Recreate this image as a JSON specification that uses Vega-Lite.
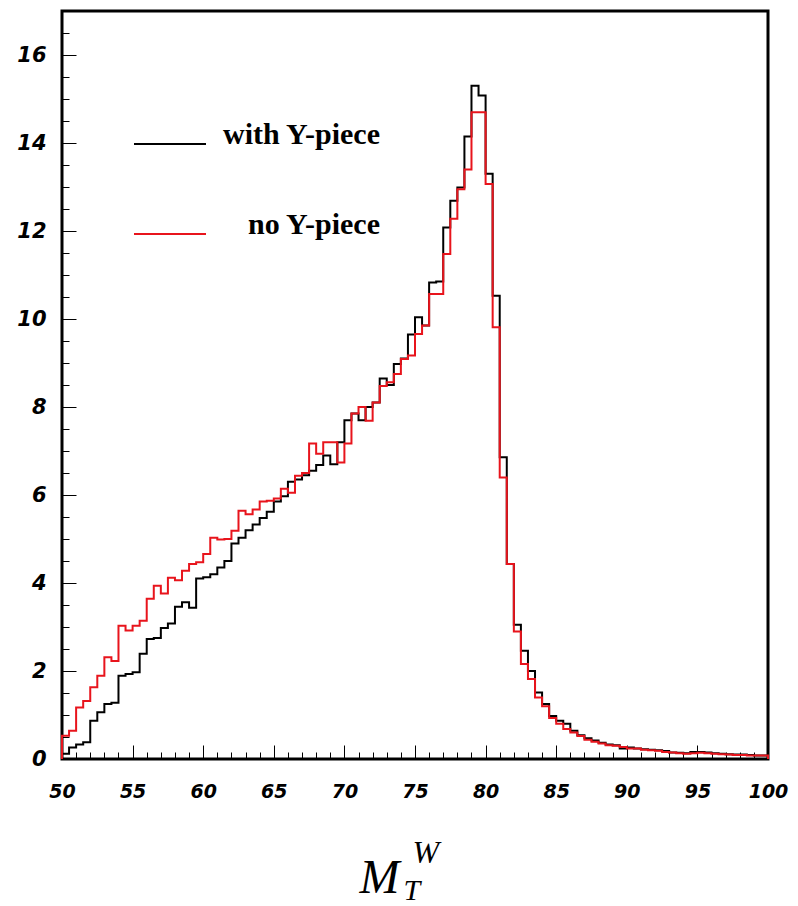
{
  "$schema": "https://vega.github.io/schema/vega-lite/v6.json",
  "width": 706,
  "height": 748,
  "autosize": "none",
  "padding": {"left": 62, "top": 11, "right": 30, "bottom": 147},
  "background": "white",
  "config": {"view": {"stroke": "black", "strokeWidth": 3}},
  "data": {"values": [
    {"i":0,"x":50,"with Y-piece":0,"no Y-piece":0},
    {"i":1,"x":50.0,"with Y-piece":0.12,"no Y-piece":0.53},
    {"i":2,"x":50.5,"with Y-piece":0.26,"no Y-piece":0.64},
    {"i":3,"x":51.0,"with Y-piece":0.33,"no Y-piece":1.17},
    {"i":4,"x":51.5,"with Y-piece":0.38,"no Y-piece":1.32},
    {"i":5,"x":52.0,"with Y-piece":0.87,"no Y-piece":1.63},
    {"i":6,"x":52.5,"with Y-piece":1.06,"no Y-piece":1.89},
    {"i":7,"x":53.0,"with Y-piece":1.25,"no Y-piece":2.31},
    {"i":8,"x":53.5,"with Y-piece":1.28,"no Y-piece":2.23},
    {"i":9,"x":54.0,"with Y-piece":1.89,"no Y-piece":3.03},
    {"i":10,"x":54.5,"with Y-piece":1.93,"no Y-piece":2.92},
    {"i":11,"x":55.0,"with Y-piece":1.97,"no Y-piece":3.03},
    {"i":12,"x":55.5,"with Y-piece":2.39,"no Y-piece":3.14},
    {"i":13,"x":56.0,"with Y-piece":2.73,"no Y-piece":3.64},
    {"i":14,"x":56.5,"with Y-piece":2.75,"no Y-piece":3.94},
    {"i":15,"x":57.0,"with Y-piece":2.98,"no Y-piece":3.76},
    {"i":16,"x":57.5,"with Y-piece":3.08,"no Y-piece":4.12},
    {"i":17,"x":58.0,"with Y-piece":3.46,"no Y-piece":4.06},
    {"i":18,"x":58.5,"with Y-piece":3.56,"no Y-piece":4.28},
    {"i":19,"x":59.0,"with Y-piece":3.44,"no Y-piece":4.43},
    {"i":20,"x":59.5,"with Y-piece":4.10,"no Y-piece":4.47},
    {"i":21,"x":60.0,"with Y-piece":4.13,"no Y-piece":4.66},
    {"i":22,"x":60.5,"with Y-piece":4.20,"no Y-piece":5.03},
    {"i":23,"x":61.0,"with Y-piece":4.35,"no Y-piece":4.99},
    {"i":24,"x":61.5,"with Y-piece":4.50,"no Y-piece":5.00},
    {"i":25,"x":62.0,"with Y-piece":4.90,"no Y-piece":5.19},
    {"i":26,"x":62.5,"with Y-piece":5.03,"no Y-piece":5.64},
    {"i":27,"x":63.0,"with Y-piece":5.20,"no Y-piece":5.56},
    {"i":28,"x":63.5,"with Y-piece":5.33,"no Y-piece":5.67},
    {"i":29,"x":64.0,"with Y-piece":5.48,"no Y-piece":5.85},
    {"i":30,"x":64.5,"with Y-piece":5.62,"no Y-piece":5.87},
    {"i":31,"x":65.0,"with Y-piece":5.85,"no Y-piece":5.92},
    {"i":32,"x":65.5,"with Y-piece":5.97,"no Y-piece":6.14},
    {"i":33,"x":66.0,"with Y-piece":6.30,"no Y-piece":6.05},
    {"i":34,"x":66.5,"with Y-piece":6.35,"no Y-piece":6.44},
    {"i":35,"x":67.0,"with Y-piece":6.45,"no Y-piece":6.50},
    {"i":36,"x":67.5,"with Y-piece":6.55,"no Y-piece":7.17},
    {"i":37,"x":68.0,"with Y-piece":6.68,"no Y-piece":6.94},
    {"i":38,"x":68.5,"with Y-piece":6.90,"no Y-piece":7.20},
    {"i":39,"x":69.0,"with Y-piece":6.70,"no Y-piece":7.20},
    {"i":40,"x":69.5,"with Y-piece":7.20,"no Y-piece":6.74},
    {"i":41,"x":70.0,"with Y-piece":7.70,"no Y-piece":7.17},
    {"i":42,"x":70.5,"with Y-piece":7.85,"no Y-piece":7.85},
    {"i":43,"x":71.0,"with Y-piece":7.70,"no Y-piece":8.00},
    {"i":44,"x":71.5,"with Y-piece":8.00,"no Y-piece":7.69},
    {"i":45,"x":72.0,"with Y-piece":8.10,"no Y-piece":8.10},
    {"i":46,"x":72.5,"with Y-piece":8.65,"no Y-piece":8.48},
    {"i":47,"x":73.0,"with Y-piece":8.50,"no Y-piece":8.56},
    {"i":48,"x":73.5,"with Y-piece":8.98,"no Y-piece":8.75},
    {"i":49,"x":74.0,"with Y-piece":9.10,"no Y-piece":9.09},
    {"i":50,"x":74.5,"with Y-piece":9.65,"no Y-piece":9.17},
    {"i":51,"x":75.0,"with Y-piece":10.04,"no Y-piece":9.66},
    {"i":52,"x":75.5,"with Y-piece":9.85,"no Y-piece":9.85},
    {"i":53,"x":76.0,"with Y-piece":10.83,"no Y-piece":10.57},
    {"i":54,"x":76.5,"with Y-piece":10.85,"no Y-piece":10.57},
    {"i":55,"x":77.0,"with Y-piece":12.08,"no Y-piece":11.48},
    {"i":56,"x":77.5,"with Y-piece":12.69,"no Y-piece":12.28},
    {"i":57,"x":78.0,"with Y-piece":12.99,"no Y-piece":12.95},
    {"i":58,"x":78.5,"with Y-piece":14.15,"no Y-piece":13.40},
    {"i":59,"x":79.0,"with Y-piece":15.30,"no Y-piece":14.70},
    {"i":60,"x":79.5,"with Y-piece":15.08,"no Y-piece":14.70},
    {"i":61,"x":80.0,"with Y-piece":13.30,"no Y-piece":13.07},
    {"i":62,"x":80.5,"with Y-piece":10.53,"no Y-piece":9.81},
    {"i":63,"x":81.0,"with Y-piece":6.86,"no Y-piece":6.40},
    {"i":64,"x":81.5,"with Y-piece":4.43,"no Y-piece":4.43},
    {"i":65,"x":82.0,"with Y-piece":3.05,"no Y-piece":2.90},
    {"i":66,"x":82.5,"with Y-piece":2.46,"no Y-piece":2.16},
    {"i":67,"x":83.0,"with Y-piece":2.00,"no Y-piece":1.82},
    {"i":68,"x":83.5,"with Y-piece":1.51,"no Y-piece":1.40},
    {"i":69,"x":84.0,"with Y-piece":1.25,"no Y-piece":1.20},
    {"i":70,"x":84.5,"with Y-piece":0.98,"no Y-piece":0.93},
    {"i":71,"x":85.0,"with Y-piece":0.87,"no Y-piece":0.80},
    {"i":72,"x":85.5,"with Y-piece":0.80,"no Y-piece":0.68},
    {"i":73,"x":86.0,"with Y-piece":0.64,"no Y-piece":0.60},
    {"i":74,"x":86.5,"with Y-piece":0.54,"no Y-piece":0.52},
    {"i":75,"x":87.0,"with Y-piece":0.47,"no Y-piece":0.44},
    {"i":76,"x":87.5,"with Y-piece":0.42,"no Y-piece":0.39},
    {"i":77,"x":88.0,"with Y-piece":0.37,"no Y-piece":0.35},
    {"i":78,"x":88.5,"with Y-piece":0.33,"no Y-piece":0.31},
    {"i":79,"x":89.0,"with Y-piece":0.31,"no Y-piece":0.30},
    {"i":80,"x":89.5,"with Y-piece":0.24,"no Y-piece":0.27},
    {"i":81,"x":90.0,"with Y-piece":0.26,"no Y-piece":0.24},
    {"i":82,"x":90.5,"with Y-piece":0.24,"no Y-piece":0.24},
    {"i":83,"x":91.0,"with Y-piece":0.22,"no Y-piece":0.21},
    {"i":84,"x":91.5,"with Y-piece":0.21,"no Y-piece":0.20},
    {"i":85,"x":92.0,"with Y-piece":0.20,"no Y-piece":0.19},
    {"i":86,"x":92.5,"with Y-piece":0.18,"no Y-piece":0.16},
    {"i":87,"x":93.0,"with Y-piece":0.15,"no Y-piece":0.15},
    {"i":88,"x":93.5,"with Y-piece":0.14,"no Y-piece":0.13},
    {"i":89,"x":94.0,"with Y-piece":0.13,"no Y-piece":0.12},
    {"i":90,"x":94.5,"with Y-piece":0.16,"no Y-piece":0.13},
    {"i":91,"x":95.0,"with Y-piece":0.16,"no Y-piece":0.14},
    {"i":92,"x":95.5,"with Y-piece":0.15,"no Y-piece":0.13},
    {"i":93,"x":96.0,"with Y-piece":0.13,"no Y-piece":0.12},
    {"i":94,"x":96.5,"with Y-piece":0.12,"no Y-piece":0.11},
    {"i":95,"x":97.0,"with Y-piece":0.11,"no Y-piece":0.10},
    {"i":96,"x":97.5,"with Y-piece":0.10,"no Y-piece":0.09},
    {"i":97,"x":98.0,"with Y-piece":0.10,"no Y-piece":0.09},
    {"i":98,"x":98.5,"with Y-piece":0.09,"no Y-piece":0.08},
    {"i":99,"x":99.0,"with Y-piece":0.08,"no Y-piece":0.08},
    {"i":100,"x":99.5,"with Y-piece":0.08,"no Y-piece":0.08},
    {"i":101,"x":100,"with Y-piece":0.08,"no Y-piece":0.08},
    {"i":102,"x":100,"with Y-piece":0,"no Y-piece":0}
  ]},
  "transform": [{"fold": ["with Y-piece", "no Y-piece"], "as": ["series", "y"]}],
  "layer": [
    {
      "transform": [{"filter": "datum.series == 'with Y-piece'"}],
      "mark": {"type": "line", "interpolate": "step-after", "strokeWidth": 2},
      "encoding": {
        "x": {"field": "x", "type": "quantitative", "scale": {"domain": [50, 100], "nice": false, "zero": false},
          "axis": {"orient": "bottom", "values": [50,55,60,65,70,75,80,85,90,95,100], "ticks": false, "domain": false, "grid": false,
            "labelFont": "DejaVu Sans", "labelFontWeight": "bold", "labelFontStyle": "italic", "labelFontSize": 19, "labelColor": "black",
            "labelPadding": 23, "labelFlush": false, "labelOverlap": false,
            "title": "M", "titleFont": "Liberation Serif", "titleFontStyle": "italic", "titleFontWeight": "normal", "titleFontSize": 48, "titleColor": "black",
            "titleX": 297, "titleY": 133, "titleAlign": "left", "titleBaseline": "alphabetic"}},
        "y": {"field": "y", "type": "quantitative", "scale": {"domain": [0, 17], "nice": false, "zero": true},
          "axis": {"orient": "left", "values": [0,2,4,6,8,10,12,14,16], "ticks": false, "domain": false, "grid": false,
            "labelFont": "DejaVu Sans", "labelFontWeight": "bold", "labelFontStyle": "italic", "labelFontSize": 21, "labelColor": "black",
            "labelPadding": 16, "labelFlush": false, "labelOverlap": false, "title": null}},
        "color": {"field": "series", "type": "nominal", "scale": {"domain": ["with Y-piece", "no Y-piece"], "range": ["#000000", "#e8141c"]},
          "legend": {"orient": "none", "legendX": 71, "legendY": 96, "title": null, "padding": 0,
            "symbolType": "stroke", "symbolSize": 5184, "symbolStrokeWidth": 2,
            "labelFont": "Liberation Serif", "labelFontWeight": "bold", "labelFontSize": 30, "labelColor": "black",
            "labelBaseline": "alphabetic", "labelAlign": "right", "labelOffset": 173, "rowPadding": 47, "labelLimit": 400}},
        "order": {"field": "i", "type": "quantitative"}
      }
    },
    {
      "transform": [{"filter": "datum.series == 'no Y-piece'"}],
      "mark": {"type": "line", "interpolate": "step-after", "strokeWidth": 2},
      "encoding": {
        "x": {"field": "x", "type": "quantitative",
          "axis": {"orient": "bottom", "values": [50,55,60,65,70,75,80,85,90,95,100], "labels": false, "domain": false, "grid": false,
            "ticks": true, "tickSize": -14, "tickColor": "black", "tickWidth": 1,
            "title": "W", "titleFont": "Liberation Serif", "titleFontStyle": "italic", "titleFontWeight": "normal", "titleFontSize": 32, "titleColor": "black",
            "titleX": 350, "titleY": 103, "titleAlign": "left", "titleBaseline": "alphabetic"}},
        "y": {"field": "y", "type": "quantitative",
          "axis": {"orient": "left", "values": [0,2,4,6,8,10,12,14,16], "labels": false, "domain": false, "grid": false,
            "ticks": true, "tickSize": -14, "tickColor": "black", "tickWidth": 1, "title": null}},
        "color": {"field": "series", "type": "nominal"},
        "order": {"field": "i", "type": "quantitative"}
      }
    },
    {
      "transform": [{"filter": "datum.series == 'no Y-piece'"}],
      "mark": {"type": "line", "interpolate": "step-after", "strokeOpacity": 0},
      "encoding": {
        "x": {"field": "x", "type": "quantitative",
          "axis": {"orient": "bottom", "values": [51,52,53,54,56,57,58,59,61,62,63,64,66,67,68,69,71,72,73,74,76,77,78,79,81,82,83,84,86,87,88,89,91,92,93,94,96,97,98,99],
            "labels": false, "domain": false, "grid": false,
            "ticks": true, "tickSize": -7, "tickColor": "black", "tickWidth": 1,
            "title": "T", "titleFont": "Liberation Serif", "titleFontStyle": "italic", "titleFontWeight": "normal", "titleFontSize": 30, "titleColor": "black",
            "titleX": 341, "titleY": 140, "titleAlign": "left", "titleBaseline": "alphabetic"}},
        "y": {"field": "y", "type": "quantitative",
          "axis": {"orient": "left", "values": [0.5,1,1.5,2.5,3,3.5,4.5,5,5.5,6.5,7,7.5,8.5,9,9.5,10.5,11,11.5,12.5,13,13.5,14.5,15,15.5,16.5],
            "labels": false, "domain": false, "grid": false,
            "ticks": true, "tickSize": -7, "tickColor": "black", "tickWidth": 1, "title": null}},
        "order": {"field": "i", "type": "quantitative"}
      }
    }
  ],
  "resolve": {"axis": {"x": "independent", "y": "independent"}}
}
